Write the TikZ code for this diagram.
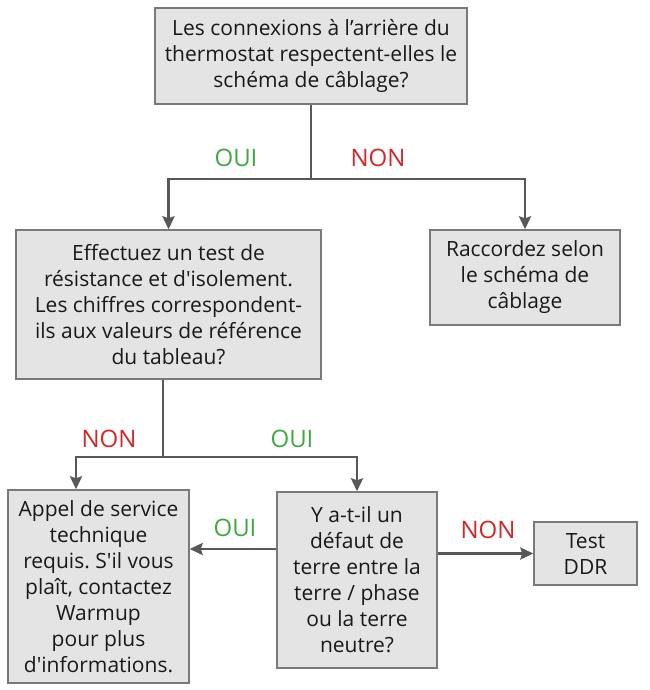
\documentclass[tikz,border=0pt]{standalone}
\usepackage{fontspec}
\setmainfont{Open Sans}[Ligatures=TeXOff]
\usepackage{xcolor}
\usetikzlibrary{arrows.meta,positioning,calc}
\definecolor{boxfill}{RGB}{228,228,228}
\definecolor{boxline}{RGB}{122,122,122}
\definecolor{arrowgray}{RGB}{88,88,88}
\definecolor{ouigreen}{RGB}{61,170,61}
\definecolor{nonred}{RGB}{212,38,38}
\frenchspacing

\begin{document}
\begin{tikzpicture}[
  x=1pt, y=-1pt,
  every node/.style={font=\fontsize{21}{26}\selectfont, text=black!90},
  stepbox/.style={draw=boxline,line width=1.4pt,fill=boxfill,
                  align=center,inner sep=0pt},
  stem/.style={draw=arrowgray,line width=2.6pt},
  flow/.style={stem,-{Stealth[length=13pt,width=12pt,inset=2pt]}},
  oui/.style={text=ouigreen,font=\fontsize{24}{28}\selectfont},
  non/.style={text=nonred,font=\fontsize{24}{28}\selectfont}
]
\useasboundingbox (0,0) rectangle (649,690);

\node[stepbox, minimum width=312pt, minimum height=96pt] (wiring) at (311,56)
  {Les connexions à l’arrière du\\thermostat respectent-elles le\\schéma de câblage?};
\node[stepbox, minimum width=305pt, minimum height=149pt] (resist) at (168.5,304.5)
  {Effectuez un test de\\résistance et d'isolement.\\Les chiffres correspondent-\\ils aux valeurs de référence\\du tableau?};
\node[stepbox, minimum width=190pt, minimum height=95pt] (rewire) at (525,277.5)
  {Raccordez selon\\le schéma de\\câblage};
\node[stepbox, minimum width=181pt, minimum height=193pt] (service) at (98.5,586.5)
  {Appel de service\\technique\\requis. S'il vous\\plaît, contactez\\Warmup\\pour plus\\d'informations.};
\node[stepbox, minimum width=160pt, minimum height=176pt] (earth) at (357,580)
  {Y a-t-il un\\défaut de\\terre entre la\\terre / phase\\ou la terre\\neutre?};
\node[stepbox, minimum width=103pt, minimum height=63pt] (rcd) at (585.5,553.5)
  {Test\\DDR};

% first question
\coordinate (split1) at (311,179);
\draw[stem] (wiring) -- (split1);
\draw[flow] (split1) -| (resist);
\draw[flow] (split1) -| (rewire);
\node[oui] at (236,158) {OUI};
\node[non] at (378,158) {NON};

% second question
\coordinate (split2) at (163,457);
\draw[stem] (split2 |- resist.south) -- (split2);
\draw[flow] (split2) -| ([xshift=-22.5pt]service.north);
\draw[flow] (split2) -| (earth);
\node[non] at (109,439) {NON};
\node[oui] at (292,439) {OUI};

% earth fault
\draw[flow] ([yshift=31pt]earth.west) -- ([yshift=31pt]earth.west -| service.east);
\draw[flow] (earth.east |- rcd.west) -- (rcd.west);
\node[oui] at (235,528) {OUI};
\node[non] at (488,530) {NON};
\end{tikzpicture}
\end{document}
